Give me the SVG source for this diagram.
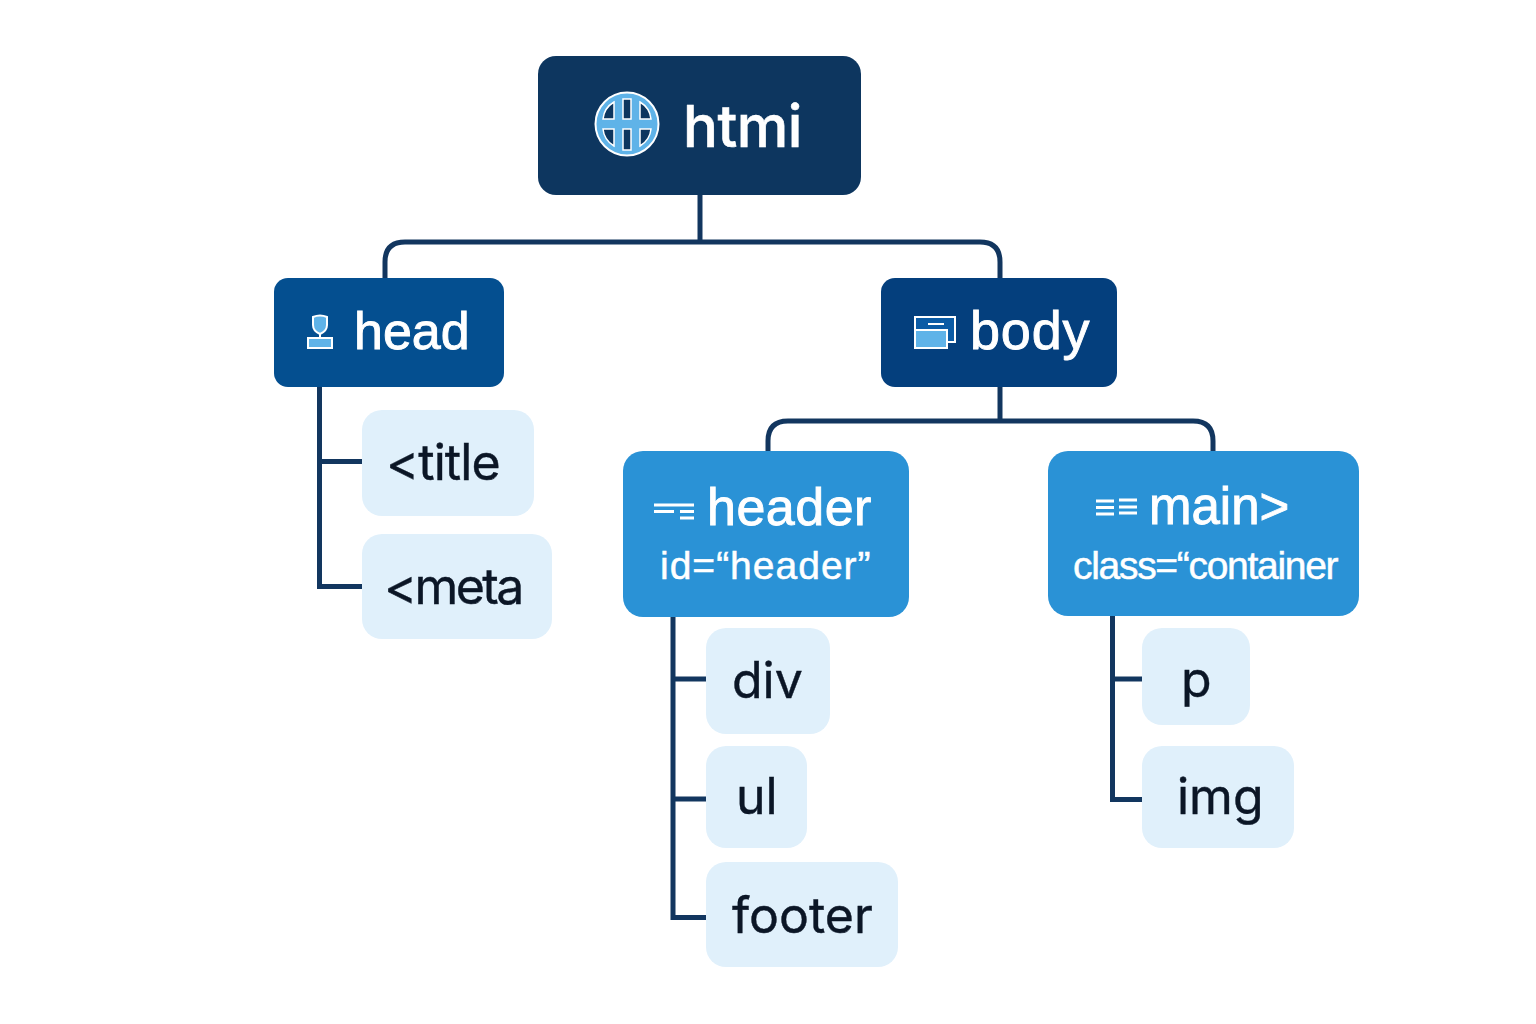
<svg xmlns="http://www.w3.org/2000/svg" width="1536" height="1024" viewBox="0 0 1536 1024">
<style>
.t{font-family:"Liberation Sans",Arial,sans-serif;font-weight:400;stroke:#fff;stroke-width:.9}
.s{stroke-width:.5}
.w{fill:#fff}
.k{fill:#0b1626;stroke:#0b1626;stroke-width:.4;font-size:50px;font-family:"Inter","Liberation Sans",sans-serif}
.leaf{fill:#e0f0fb}
.c{fill:none;stroke:#12365f;stroke-width:5}
.i{fill:#5fb3e8;stroke:#fff;stroke-width:2}
.l{stroke:#fff;stroke-width:3;fill:none}
</style>
<rect width="1536" height="1024" fill="#fff"/>
<g id="connectors" class="c">
<path d="M700 194V240"/>
<path d="M385 279V262Q385 242 405 242H980Q1000 242 1000 262V279"/>
<path d="M1000 386V421"/>
<path d="M768 451V441Q768 421 788 421H1193Q1213 421 1213 441V451"/>
<path d="M319.500 386V586.500H362"/>
<path d="M320 461.500H362"/>
<path d="M673 616V917.500H706"/>
<path d="M673 679H706"/>
<path d="M673 799H706"/>
<path d="M1112.500 616V799.500H1142"/>
<path d="M1112 679H1142"/>
</g>
<g id="html">
<rect x="538" y="56" width="323" height="139" rx="18" fill="#0d365f"/>
<circle cx="627" cy="124" r="31.500" fill="#5fb3e8" stroke="#fff" stroke-width="2"/>
<path d="M603 119Q604 108 614 102V119ZM651 119Q650 108 640 102V119ZM603 129Q604 140 614 146V129ZM651 129Q650 140 640 146V129ZM623 99H631V119H623ZM623 129H631V150H623Z" fill="#0d365f" stroke="#fff" stroke-width="1.500"/>
<text class="t w" x="683" y="147" font-size="58" style="font-family:Inter,'Liberation Sans',sans-serif;font-weight:500;stroke-width:.6;letter-spacing:-.5px">htmi</text>
</g>
<g id="head">
<rect x="274" y="278" width="230" height="109" rx="14" fill="#044f90"/>
<path d="M313 317Q320 314 327 317V325Q327 331 320 334Q313 331 313 325Z" fill="#5fb3e8" stroke="#fff" stroke-width="2"/>
<path d="M320 334V339" class="l" style="stroke-width:2"/>
<rect x="308" y="338" width="24" height="10" class="i"/>
<text class="t w" x="354" y="349" font-size="52">head</text>
</g>
<g id="body">
<rect x="881" y="278" width="236" height="109" rx="14" fill="#043f7d"/>
<rect x="915" y="317" width="40" height="25" fill="#0b5ba5" stroke="#fff" stroke-width="2"/>
<path d="M928 324H944" class="l" style="stroke-width:2"/>
<rect x="915" y="330" width="32" height="18" class="i"/>
<text class="t w" x="970" y="349" font-size="54" letter-spacing=".8">body</text>
</g>
<g id="header">
<rect x="623" y="451" width="286" height="166" rx="20" fill="#2a92d6"/>
<path d="M654 505H694M654 511.500H674M680 511.500H694M680 518H694" class="l"/>
<text class="t w" x="707" y="525" font-size="52" letter-spacing=".5">header</text>
<text class="t w s" x="660" y="579" font-size="39" letter-spacing="1">id=“header”</text>
</g>
<g id="main">
<rect x="1048" y="451" width="311" height="165" rx="20" fill="#2a92d6"/>
<path d="M1096 501H1114M1096 507.500H1114M1096 514H1114M1119 500H1137M1119 507H1137M1119 513H1137" class="l"/>
<text class="t w" x="1149" y="524" font-size="51">main&gt;</text>
<text class="t w s" x="1073" y="579" font-size="39" letter-spacing="-1.300">class=“container</text>
</g>
<g id="title"><rect class="leaf" x="362" y="410" width="172" height="106" rx="20"/><text class="k" x="386" y="480" letter-spacing="-.9">&lt;title</text></g>
<g id="meta"><rect class="leaf" x="362" y="534" width="190" height="105" rx="20"/><text class="k" x="384" y="604" letter-spacing="-2.600">&lt;meta</text></g>
<g id="div"><rect class="leaf" x="706" y="628" width="124" height="106" rx="20"/><text class="k" x="732" y="698">div</text></g>
<g id="ul"><rect class="leaf" x="706" y="746" width="101" height="102" rx="20"/><text class="k" x="736" y="814">ul</text></g>
<g id="footer"><rect class="leaf" x="706" y="862" width="192" height="105" rx="20"/><text class="k" x="732" y="933">footer</text></g>
<g id="p"><rect class="leaf" x="1142" y="628" width="108" height="97" rx="20"/><text class="k" x="1181" y="697">p</text></g>
<g id="img"><rect class="leaf" x="1142" y="746" width="152" height="102" rx="20"/><text class="k" x="1177" y="814">img</text></g>
</svg>
